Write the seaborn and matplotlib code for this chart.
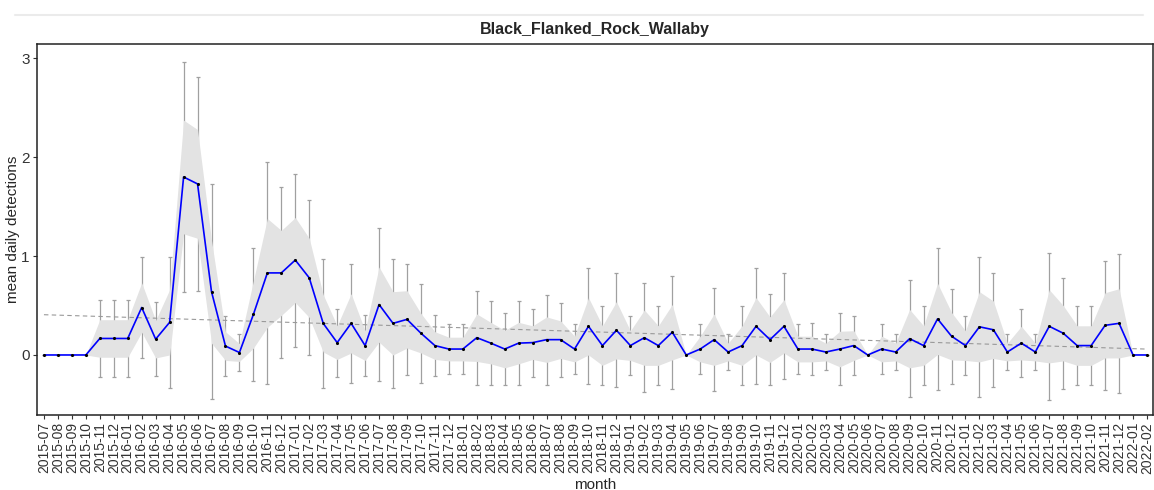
import numpy as np
import pandas as pd
import matplotlib
matplotlib.use("Agg")
import matplotlib.pyplot as plt
from matplotlib.lines import Line2D
import seaborn as sns

# Monthly camera-trap summary for one species
species = "Black_Flanked_Rock_Wallaby"
months = [str(p) for p in pd.period_range("2015-07", "2022-02", freq="M")]

mean_det = [0, 0, 0, 0, 0.167, 0.167, 0.167, 0.48, 0.16, 0.33,
            1.80, 1.73, 0.64, 0.09, 0.025, 0.41, 0.83, 0.83, 0.96, 0.78,
            0.32, 0.125, 0.32, 0.095, 0.51, 0.32, 0.36, 0.22, 0.095, 0.06,
            0.06, 0.175, 0.12, 0.06, 0.12, 0.125, 0.155, 0.155, 0.06, 0.29,
            0.095, 0.25, 0.095, 0.175, 0.095, 0.23, 0, 0.06, 0.155, 0.03,
            0.095, 0.29, 0.155, 0.29, 0.06, 0.06, 0.03, 0.06, 0.095, 0,
            0.06, 0.03, 0.165, 0.095, 0.365, 0.19, 0.095, 0.285, 0.255, 0.03,
            0.12, 0.03, 0.29, 0.22, 0.095, 0.095, 0.30, 0.32, 0, 0]

# standard deviation (error bars)
sd_det = [0, 0, 0, 0, 0.385, 0.385, 0.385, 0.51, 0.375, 0.665,
          1.165, 1.085, 1.085, 0.30, 0.185, 0.675, 1.12, 0.865, 0.875, 0.785,
          0.655, 0.345, 0.60, 0.305, 0.77, 0.655, 0.56, 0.50, 0.305, 0.255,
          0.255, 0.475, 0.425, 0.365, 0.425, 0.345, 0.455, 0.375, 0.255, 0.585,
          0.40, 0.575, 0.30, 0.55, 0.40, 0.57, 0, 0.255, 0.52, 0.18,
          0.40, 0.585, 0.46, 0.535, 0.255, 0.26, 0.18, 0.365, 0.30, 0,
          0.255, 0.185, 0.59, 0.40, 0.72, 0.48, 0.30, 0.71, 0.575, 0.185,
          0.34, 0.185, 0.745, 0.56, 0.40, 0.40, 0.655, 0.70, 0, 0]

# standard error (shaded band)
se_det = [0, 0, 0, 0, 0.19, 0.19, 0.19, 0.25, 0.19, 0.33,
          0.575, 0.55, 0.52, 0.145, 0.09, 0.34, 0.55, 0.43, 0.43, 0.40,
          0.29, 0.17, 0.30, 0.15, 0.38, 0.32, 0.29, 0.20, 0.14, 0.12,
          0.12, 0.24, 0.21, 0.19, 0.21, 0.17, 0.23, 0.19, 0.13, 0.29,
          0.20, 0.29, 0.15, 0.28, 0.20, 0.28, 0, 0.13, 0.26, 0.09,
          0.20, 0.29, 0.23, 0.27, 0.13, 0.13, 0.09, 0.18, 0.15, 0,
          0.13, 0.09, 0.295, 0.20, 0.36, 0.24, 0.15, 0.355, 0.29, 0.09,
          0.17, 0.09, 0.37, 0.28, 0.20, 0.20, 0.33, 0.35, 0, 0]

df = pd.DataFrame({"month": months, "mean": mean_det, "sd": sd_det, "se": se_det})
df["idx"] = np.arange(len(df))

sns.set_theme(style="white")
plt.rcParams["font.family"] = ["Liberation Sans", "DejaVu Sans"]

fig = plt.figure(figsize=(11.54, 4.90), dpi=100)
W, H = 1154, 490
ax = fig.add_axes([36.7 / W, (H - 415) / H, (1153 - 36.7) / W, (415 - 44) / H])

# error bars (mean +/- sd)
ax.errorbar(df["idx"], df["mean"], yerr=df["sd"], fmt="none",
            ecolor="#a0a0a0", elinewidth=0.9, capsize=1.6, capthick=0.9, zorder=1)

# shaded band (mean +/- se)
ax.fill_between(df["idx"], df["mean"] - df["se"], df["mean"] + df["se"],
                color="#e3e3e3", linewidth=0, zorder=2)

# linear trend
sns.regplot(data=df, x="idx", y="mean", scatter=False, ci=None, ax=ax,
            line_kws=dict(color="#999999", linestyle=(0, (4, 3)), linewidth=0.8, zorder=3))

# monthly means
sns.lineplot(data=df, x="idx", y="mean", ax=ax, color="#0000ff",
             linewidth=1.2, zorder=4)
ax.scatter(df["idx"], df["mean"], s=5, color="black", zorder=5, linewidths=0)

ax.set_xlim(-0.52, len(df) - 1 + 0.43)
ax.set_ylim(-0.607, 3.145)
ax.set_yticks([0, 1, 2, 3])
ax.set_yticklabels(["0", "1", "2", "3"])
ax.set_xticks(df["idx"])
ax.set_xticklabels(df["month"], rotation=90)
ax.tick_params(axis="both", which="major", length=3, width=0.8, color="#333333",
               labelcolor="#333333", pad=2, bottom=True, left=True)
ax.tick_params(axis="x", labelsize=10)
ax.tick_params(axis="y", labelsize=11)

for sp in ax.spines.values():
    sp.set_color("#222222")
    sp.set_linewidth(1.1)

ax.set_xlabel("month", fontsize=11, labelpad=3)
ax.set_ylabel("mean daily detections", fontsize=11, labelpad=1)
ax.set_title(species, fontsize=11.5, fontweight="bold", pad=7)

# thin separator above the panel
fig.add_artist(Line2D([15 / W, 1143 / W], [1 - 15 / H, 1 - 15 / H],
                      color="#ebebeb", linewidth=1.5))

fig.savefig("out.png", dpi=100)
